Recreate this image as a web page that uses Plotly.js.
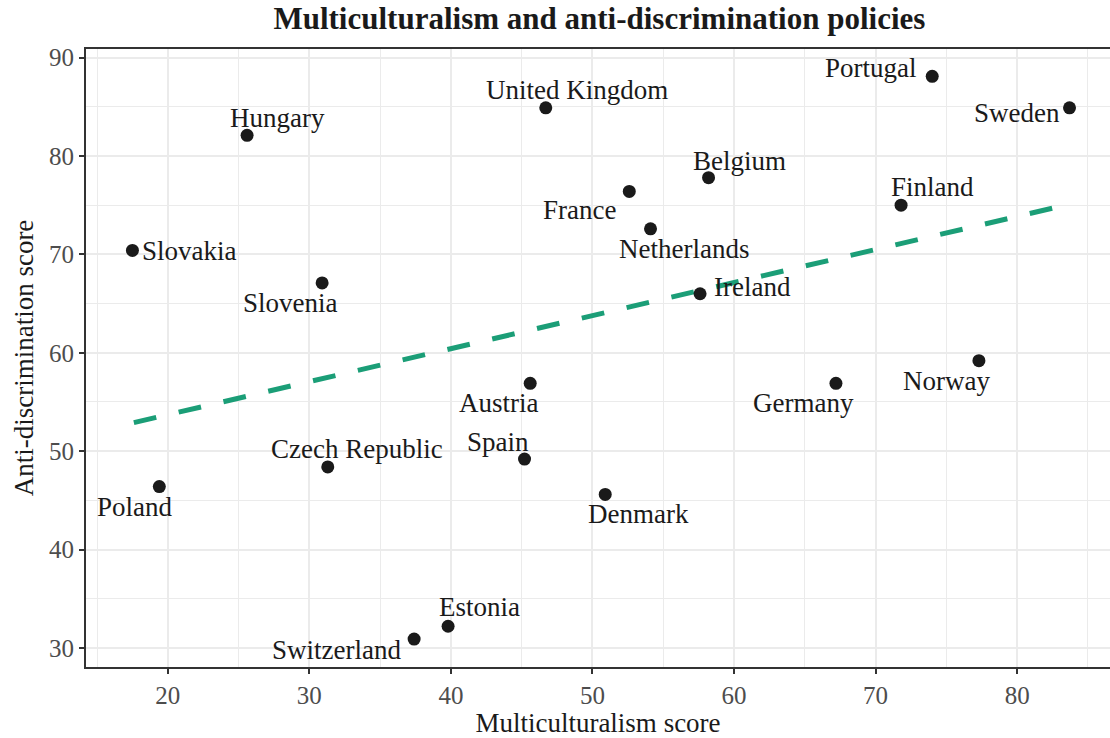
<!DOCTYPE html>
<html>
<head>
<meta charset="utf-8">
<script src="https://cdn.plot.ly/plotly-3.0.1.min.js"></script>
<style>html,body{margin:0;padding:0;background:#fff;}#chart{width:1110px;height:738px;}</style>
</head>
<body>
<div id="chart"></div>
<script>
// ---- data ----
const countries = ["Slovakia","Hungary","Slovenia","Poland","Czech Republic","Switzerland","Estonia","Austria","Spain","United Kingdom","France","Netherlands","Denmark","Belgium","Ireland","Germany","Norway","Finland","Portugal","Sweden"];
const multiculturalism = [17.5,25.6,30.9,19.4,31.3,37.4,39.8,45.6,45.2,46.7,52.6,54.1,50.9,58.2,57.6,67.2,77.3,71.8,74.0,83.7];
const antidiscrimination = [70.4,82.1,67.1,46.4,48.4,30.9,32.2,56.9,49.2,84.9,76.4,72.6,45.6,77.8,66.0,56.9,59.2,75.0,88.1,84.9];
const trendX = [17.6, 83.7];
const trendY = [52.9, 75.1];
const xTicks = [20,30,40,50,60,70,80];
const yTicks = [30,40,50,60,70,80,90];

// label placement (pixel offsets of label centre from point)
const labelOffsets = {
  "Slovakia":[57,1],"Hungary":[30,-17],"Slovenia":[-32,20],"Poland":[-24,20],
  "Czech Republic":[29,-18],"Switzerland":[-78,11],"Estonia":[31,-19],"Austria":[-31,20],
  "Spain":[-27,-17],"United Kingdom":[31,-18],"France":[-50,19],"Netherlands":[33,20],
  "Denmark":[33,20],"Belgium":[31,-17],"Ireland":[52,-7],"Germany":[-32,20],
  "Norway":[-32,20],"Finland":[31,-18],"Portugal":[-61,-8],"Sweden":[-53,5]
};

const FONT = "Liberation Serif, Times New Roman, serif";
const LABEL_SIZE = 27;

const annotations = countries.map((c,i)=>({
  x: multiculturalism[i], y: antidiscrimination[i], xref:'x', yref:'y',
  text: c, showarrow:false, xanchor:'center', yanchor:'middle',
  xshift: labelOffsets[c][0], yshift: -labelOffsets[c][1],
  font:{family:FONT, size:LABEL_SIZE, color:'#1a1a1a'}
}));

const traces = [
  {x: trendX, y: trendY, mode:'lines', type:'scatter',
   line:{color:'#1b9e77', width:5, dash:'23px,23px'}, hoverinfo:'skip'},
  {x: multiculturalism, y: antidiscrimination, mode:'markers', type:'scatter',
   marker:{color:'#1a1a1a', size:13}, text: countries}
];

const layout = {
  width:1110, height:738,
  margin:{l:86, r:0, t:49, b:71},
  paper_bgcolor:'#fff', plot_bgcolor:'#fff',
  showlegend:false,
  font:{family:FONT, color:'#1a1a1a'},
  title:{text:'<b>Multiculturalism and anti-discrimination policies</b>',
         font:{family:FONT, size:31, color:'#1a1a1a'}, x:0.54, xanchor:'center', y:0.976, yanchor:'middle'},
  xaxis:{range:[14.22, 86.56], tickvals:xTicks, ticktext:xTicks.map(String),
    showgrid:true, gridcolor:'#ebebeb', gridwidth:2,
    minor:{dtick:5, tick0:15, showgrid:true, gridcolor:'#ebebeb', gridwidth:1, ticks:''},
    zeroline:false, showline:true, linecolor:'#333333', linewidth:2, mirror:true,
    ticks:'outside', ticklen:5, tickwidth:2, tickcolor:'#333333',
    tickfont:{family:FONT, size:25, color:'#4d4d4d'},
    title:{text:'Multiculturalism score', font:{family:FONT, size:27, color:'#1a1a1a'}, standoff:7}},
  yaxis:{range:[28.06, 90.88], tickvals:yTicks, ticktext:yTicks.map(String),
    showgrid:true, gridcolor:'#ebebeb', gridwidth:2,
    minor:{dtick:5, tick0:25, showgrid:true, gridcolor:'#ebebeb', gridwidth:1, ticks:''},
    zeroline:false, showline:true, linecolor:'#333333', linewidth:2, mirror:false,
    ticks:'outside', ticklen:5, tickwidth:2, tickcolor:'#333333',
    tickfont:{family:FONT, size:25, color:'#4d4d4d'},
    title:{text:'Anti-discrimination score', font:{family:FONT, size:27, color:'#1a1a1a'}, standoff:8}},
  annotations: annotations
};

Plotly.newPlot('chart', traces, layout, {displayModeBar:false, responsive:false});
</script>
</body>
</html>
